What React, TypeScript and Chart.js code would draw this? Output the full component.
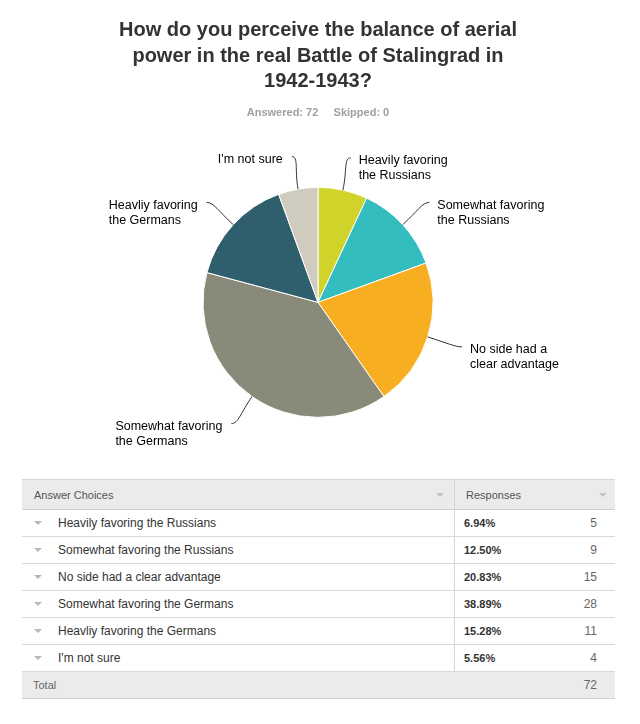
import React, { useEffect, useRef } from "react";
import { Chart, registerables } from "chart.js";

Chart.register(...registerables);

const titleLines = [
  "How do you perceive the balance of aerial",
  "power in the real Battle of Stalingrad in",
  "1942-1943?",
];
const answered = 72;
const skipped = 0;

const categories = [
  "Heavily favoring the Russians",
  "Somewhat favoring the Russians",
  "No side had a clear advantage",
  "Somewhat favoring the Germans",
  "Heavliy favoring the Germans",
  "I'm not sure",
];
const pieLabelLines = [
  ["Heavily favoring", "the Russians"],
  ["Somewhat favoring", "the Russians"],
  ["No side had a", "clear advantage"],
  ["Somewhat favoring", "the Germans"],
  ["Heavliy favoring", "the Germans"],
  ["I'm not sure"],
];
const counts = [5, 9, 15, 28, 11, 4];
const percents = ["6.94%", "12.50%", "20.83%", "38.89%", "15.28%", "5.56%"];
const totalResponses = 72;
const sliceColors = ["#d0d42a", "#33bdbf", "#f7ae20", "#8a8a7a", "#2f5f6c", "#cfccbf"];

const FONT = '"Liberation Sans", Arial, Helvetica, sans-serif';

const leaderPlugin = {
  id: "leaderLabels",
  afterDatasetsDraw(chart: any) {
    const meta = chart.getDatasetMeta(0);
    const ctx = chart.ctx;
    ctx.save();
    ctx.font = `12.5px ${FONT}`;
    ctx.textBaseline = "middle";
    ctx.textAlign = "left";
    ctx.fillStyle = "#000";
    ctx.strokeStyle = "#333";
    ctx.lineWidth = 1;
    meta.data.forEach((arc: any, i: number) => {
      const { x, y, startAngle, endAngle, outerRadius } = arc.getProps(
        ["x", "y", "startAngle", "endAngle", "outerRadius"],
        true
      );
      const mid = (startAngle + endAngle) / 2;
      const c = Math.cos(mid);
      const s = Math.sin(mid);
      const p0x = x + outerRadius * c;
      const p0y = y + outerRadius * s;
      const ex = x + (outerRadius + 36) * c;
      const ey = y + (outerRadius + 33) * s;
      const right = c >= 0;
      const sign = right ? 1 : -1;
      ctx.beginPath();
      ctx.moveTo(p0x, p0y);
      ctx.bezierCurveTo(
        x + (outerRadius + 20) * c,
        y + (outerRadius + 20) * s,
        ex - sign * 7,
        ey,
        ex,
        ey
      );
      ctx.stroke();
      const lines = pieLabelLines[i];
      const maxW = Math.max(...lines.map((l) => ctx.measureText(l).width));
      const tx = right ? ex + 8 : ex - 9 - maxW;
      lines.forEach((l, k) => ctx.fillText(l, tx, ey + 3 + k * 15));
    });
    ctx.restore();
  },
};

function PieChart() {
  const ref = useRef<HTMLCanvasElement | null>(null);
  useEffect(() => {
    if (!ref.current) return;
    const chart = new Chart(ref.current, {
      type: "pie",
      data: {
        labels: categories,
        datasets: [
          {
            data: counts,
            backgroundColor: sliceColors,
            borderColor: "#ffffff",
            borderWidth: 1,
            radius: 115,
          } as any,
        ],
      },
      options: {
        responsive: false,
        animation: false,
        layout: { padding: { top: 0, bottom: 6, left: 0, right: 4 } },
        plugins: {
          legend: { display: false },
          tooltip: { enabled: false },
          title: {
            display: true,
            text: titleLines,
            color: "#333333",
            font: { family: FONT, size: 20, weight: "bold", lineHeight: 1.275 },
            padding: { top: 18, bottom: 12 },
          },
          subtitle: {
            display: true,
            text: `Answered: ${answered}     Skipped: ${skipped}`,
            color: "#a0a0a0",
            font: { family: FONT, size: 11, weight: "bold", lineHeight: 1.2 },
            padding: { top: 0, bottom: 21 },
          },
        },
      },
      plugins: [leaderPlugin],
    });
    return () => chart.destroy();
  }, []);
  return <canvas ref={ref} width={640} height={470} style={{ display: "block" }} />;
}

function Caret({ color }: { color: string }) {
  return (
    <span
      style={{
        display: "inline-block",
        width: 0,
        height: 0,
        borderLeft: "4px solid transparent",
        borderRight: "4px solid transparent",
        borderTop: `4px solid ${color}`,
      }}
    />
  );
}

function ResultsTable() {
  const left = 22;
  const width = 593;
  const divider = 454 - left;
  const cell: React.CSSProperties = { position: "absolute", top: 0, height: "100%", display: "flex", alignItems: "center" };
  return (
    <div style={{ position: "absolute", left, top: 479, width, fontFamily: FONT, fontSize: 11 }}>
      <div
        style={{
          position: "relative",
          height: 31,
          background: "#ebebeb",
          borderTop: "1px solid #d6d6d6",
          borderBottom: "1px solid #d0d0d0",
          boxSizing: "border-box",
          color: "#555",
        }}
      >
        <div style={{ ...cell, left: 12 }}>Answer Choices</div>
        <div style={{ ...cell, left: divider - 18 }}>
          <Caret color="#c4c4c4" />
        </div>
        <div style={{ position: "absolute", left: divider, top: 0, bottom: 0, borderLeft: "1px solid #d6d6d6" }} />
        <div style={{ ...cell, left: divider + 12 }}>Responses</div>
        <div style={{ ...cell, left: width - 16 }}>
          <Caret color="#c4c4c4" />
        </div>
      </div>
      {categories.map((cat, i) => (
        <div
          key={cat}
          style={{
            position: "relative",
            height: 27,
            background: "#fff",
            borderBottom: "1px solid #d9d9d9",
            boxSizing: "border-box",
          }}
        >
          <div style={{ ...cell, left: 12 }}>
            <Caret color="#b8b8b8" />
          </div>
          <div style={{ ...cell, left: 36, color: "#333", fontSize: 12 }}>{cat}</div>
          <div style={{ position: "absolute", left: divider, top: 0, bottom: -1, borderLeft: "1px solid #d6d6d6" }} />
          <div style={{ ...cell, left: divider + 10, color: "#333", fontWeight: "bold" }}>{percents[i]}</div>
          <div style={{ ...cell, right: 18, color: "#666", fontSize: 12 }}>{counts[i]}</div>
        </div>
      ))}
      <div
        style={{
          position: "relative",
          height: 27,
          background: "#ebebeb",
          borderBottom: "1px solid #d0d0d0",
          boxSizing: "border-box",
          color: "#666",
        }}
      >
        <div style={{ ...cell, left: 11 }}>Total</div>
        <div style={{ ...cell, right: 18, fontSize: 12 }}>{totalResponses}</div>
      </div>
    </div>
  );
}

export default function App() {
  return (
    <div style={{ position: "absolute", left: 0, top: 0, width: 640, height: 724, background: "#fff", overflow: "hidden" }}>
      <PieChart />
      <ResultsTable />
    </div>
  );
}
